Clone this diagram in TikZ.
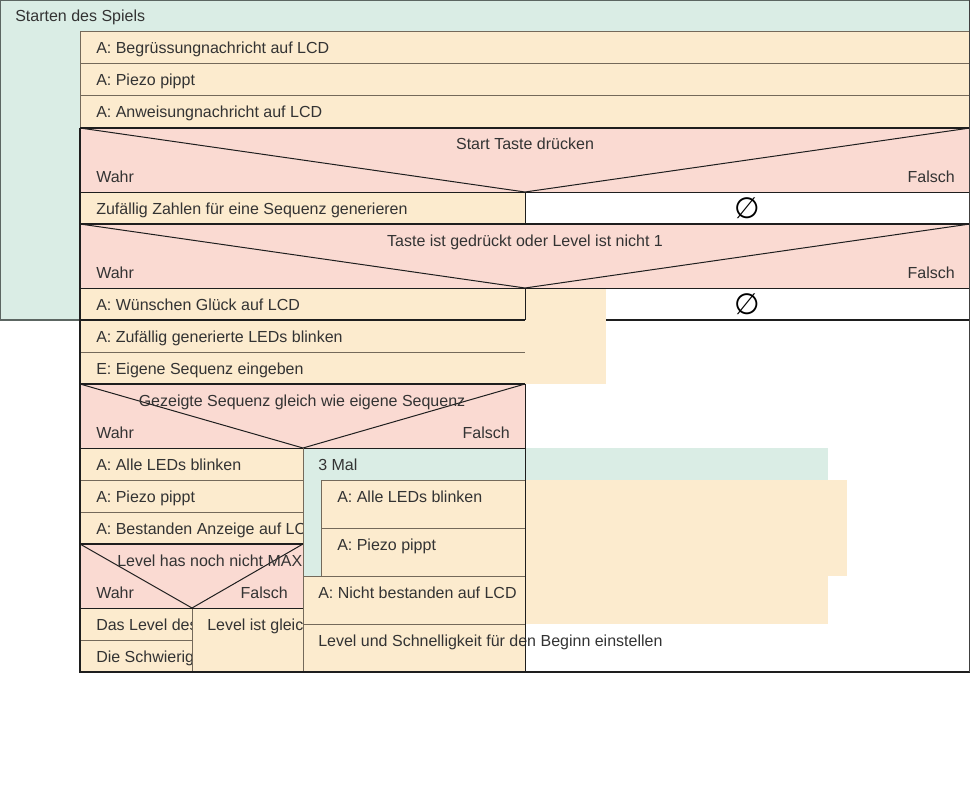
\documentclass[tikz,border=0pt]{standalone}
\usepackage{fontspec}
\setmainfont{Liberation Sans}
\newfontfamily\symfont{DejaVu Sans}
\definecolor{greenF}{HTML}{DAEDE5}
\definecolor{beigeF}{HTML}{FCEBCE}
\definecolor{pinkF}{HTML}{FADAD2}
\definecolor{textC}{HTML}{333333}
\definecolor{sepC}{HTML}{74695A}
\definecolor{frameC}{HTML}{1E1E1E}
\definecolor{greyL}{HTML}{5C6662}
\begin{document}
\begin{tikzpicture}[x=0.75pt,y=-0.75pt,
  font=\fontsize{12}{14}\selectfont,
  txt/.style={anchor=base west,inner sep=0pt,text=textC},
  ctxt/.style={anchor=base,inner sep=0pt,text=textC},
  rtxt/.style={anchor=base east,inner sep=0pt,text=textC},
  sepline/.style={draw=sepC,line width=0.75pt},
  thinblack/.style={draw=frameC,line width=0.75pt},
  heavy/.style={draw=frameC,line width=1.5pt},
  greyline/.style={draw=greyL,line width=0.9pt},
  emptyset/.style={anchor=center,inner sep=0pt,font=\symfont\fontsize{22}{22}\selectfont,text=black}]
\useasboundingbox (0,0) rectangle (970,788);

% outer loop "Starten des Spiels"
\fill[greenF] (0,0) rectangle (970,320);
\draw[greyline] (0,0) rectangle (970,320);
\node[txt] (start) at (15,22) {Starten des Spiels};

% first three rows
\fill[beigeF] (80,32) rectangle (970,128);
\draw[sepline] (80,128) -- (80,32) -- (970,32);
\draw[sepline] (80,64) -- (970,64) (80,96) -- (970,96);
\node[txt] (r1) at (96,54) {A: Begrüssungnachricht auf LCD};
\node[txt] (r2) at (96,86) {A: Piezo pippt};
\node[txt] (r3) at (96,118) {A: Anweisungnachricht auf LCD};

% decision 1
\fill[pinkF] (80,128) rectangle (970,192);
\draw[thinblack] (80,128) -- (525,192) -- (970,128);
\draw[heavy] (80,128) -- (970,128);
\node[ctxt] (d1) at (525,150) {Start Taste drücken};
\node[txt] (d1w) at (96,182) {Wahr};
\node[rtxt] (d1f) at (955,182) {Falsch};

% row after decision 1
\fill[beigeF] (80,192) rectangle (525,224);
\fill[white] (525,192) rectangle (970,224);
\draw[thinblack] (525,192) -- (525,224);
\draw[thinblack] (80,192) -- (970,192);
\node[txt] (z1) at (96,214) {Zufällig Zahlen für eine Sequenz generieren};
\node[emptyset] (e1) at (747,208) {∅};

% decision 2
\fill[pinkF] (80,224) rectangle (970,288);
\draw[thinblack] (80,224) -- (525,288) -- (970,224);
\draw[heavy] (80,224) -- (970,224);
\node[ctxt] (d2) at (525,246) {Taste ist gedrückt oder Level ist nicht 1};
\node[txt] (d2w) at (96,278) {Wahr};
\node[rtxt] (d2f) at (955,278) {Falsch};

% row after decision 2
\fill[beigeF] (80,288) rectangle (525,320);
\fill[white] (525,288) rectangle (970,320);
\draw[heavy] (80,320) -- (970,320);
\node[txt] (w1) at (96,310) {A: Wünschen Glück auf LCD};
\node[emptyset] (e2) at (747,304) {∅};

% beige block that overlaps
\fill[beigeF] (525,289) rectangle (606,384);
\fill[beigeF] (80,321) rectangle (606,384);
\draw[thinblack] (525,288) -- (525,320);
\draw[thinblack] (80,288) -- (970,288);
\draw[sepline] (80,352) -- (525,352);
\node[txt] (l1) at (96,342) {A: Zufällig generierte LEDs blinken};
\node[txt] (l2) at (96,374) {E: Eigene Sequenz eingeben};

% decision 3
\fill[pinkF] (80,384) rectangle (525,448);
\draw[thinblack] (80,384) -- (303,448) -- (525,384);
\draw[heavy] (80,384) -- (525,384);
\node[ctxt] (d3) at (302,406) {Gezeigte Sequenz gleich wie eigene Sequenz};
\node[txt] (d3w) at (96,438) {Wahr};
\node[rtxt] (d3f) at (510,438) {Falsch};

% left branch of decision 3
\fill[beigeF] (80,448) rectangle (303,544);
\draw[thinblack] (80,448) -- (525,448);
\draw[sepline] (80,480) -- (303,480) (80,512) -- (303,512);
\node[txt] (a1) at (96,470) {A: Alle LEDs blinken};
\node[txt] (a2) at (96,502) {A: Piezo pippt};
\node[txt] (a3) at (96,534) {A: Bestanden Anzeige auf LCD};

% decision 4
\fill[pinkF] (80,544) rectangle (303,608);
\draw[thinblack] (80,544) -- (192,608) -- (303,544);
\draw[heavy] (80,544) -- (303,544);
\node[txt] (d4) at (117,566) {Level has noch nicht MAX};
\node[txt] (d4w) at (96,598) {Wahr};
\node[rtxt] (d4f) at (288,598) {Falsch};

% branches of decision 4
\fill[beigeF] (80,608) rectangle (192,672);
\draw[sepline] (80,640) -- (192,640);
\node[txt] (b1) at (96,630) {Das Level des};
\node[txt] (b2) at (96,662) {Die Schwierigkeit};
\fill[beigeF] (192,608) rectangle (303,672);
\draw[sepline] (192,608) -- (192,672);
\draw[thinblack] (80,608) -- (303,608);
\node[txt] (b3) at (207,630) {Level ist gleich};

% right branch of decision 3: loop "3 Mal"
\fill[greenF] (303,448) rectangle (828,576);
\draw[thinblack] (303,448) -- (525,448);
\node[txt] (m3) at (318,470) {3 Mal};
\fill[beigeF] (321,480) rectangle (847,576);
\draw[sepline] (525,480) -- (321,480) -- (321,576);
\draw[sepline] (321,528) -- (525,528);
\node[txt] (c1) at (337,502) {A: Alle LEDs blinken};
\node[txt] (c2) at (337,550) {A: Piezo pippt};

\fill[beigeF] (303,576) rectangle (828,624);
\fill[beigeF] (303,624) rectangle (525,672);
\draw[sepline] (303,576) -- (525,576) (303,624) -- (525,624);
\draw[sepline] (303,448) -- (303,672);
\node[txt] (n1) at (318,598) {A: Nicht bestanden auf LCD};
\node[txt] (n2) at (318,646) {Level und Schnelligkeit für den Beginn einstellen};

% frame lines
\draw[thinblack] (525,384) -- (525,672);
\draw[heavy] (80,128) -- (80,672) -- (970,672);
\draw[heavy,draw=frameC!85] (969.5,0) -- (969.5,672);
\end{tikzpicture}
\end{document}
